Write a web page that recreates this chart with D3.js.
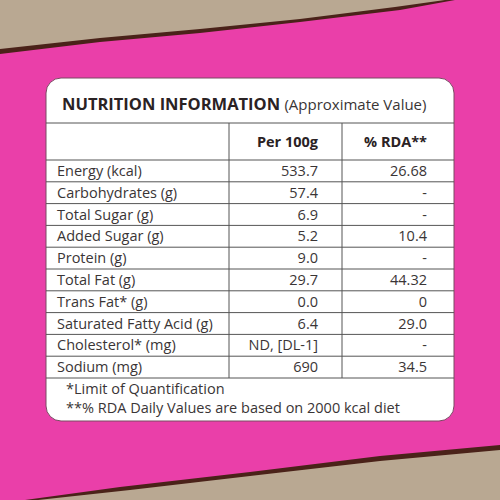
<!DOCTYPE html>
<html><head><meta charset="utf-8">
<script src="https://cdn.jsdelivr.net/npm/d3@7"></script>
<style>body{margin:0}svg{display:block}</style>
</head><body>
<div id="label"></div>
<script>
// --- données ---
const nutrients = ["Energy (kcal)", "Carbohydrates (g)", "Total Sugar (g)", "Added Sugar (g)", "Protein (g)",
  "Total Fat (g)", "Trans Fat* (g)", "Saturated Fatty Acid (g)", "Cholesterol* (mg)", "Sodium (mg)"];
const per100g = ["533.7", "57.4", "6.9", "5.2", "9.0", "29.7", "0.0", "6.4", "ND, [DL-1]", "690"];
const rda = ["26.68", "-", "-", "10.4", "-", "44.32", "0", "29.0", "-", "34.5"];
const headers = ["Per 100g", "% RDA**"];
const notes = ["*Limit of Quantification", "**% RDA Daily Values are based on 2000 kcal diet"];

const W = 500, H = 500;
const font = "'Open Sans', sans-serif";
const ink = "#3a3536";

const svg = d3.select("#label").append("svg").attr("width", W).attr("height", H);

// fond rose + papier déchiré
svg.append("rect").attr("width", W).attr("height", H).attr("fill", "#ea3fa9");
const line = d3.line();
svg.append("path").attr("fill", "#4a2219")
  .attr("d", line([[0,0],[455,0],[400,10],[300,22],[200,33],[100,42],[0,54]]) + "Z");
svg.append("path").attr("fill", "#b9a892")
  .attr("d", line([[0,0],[445,0],[395,7],[300,19],[200,29],[100,38],[0,49]]) + "Z");
svg.append("path").attr("fill", "#4a2219")
  .attr("d", line([[25,500],[120,487],[250,472],[380,456],[500,445],[500,500]]) + "Z");
svg.append("path").attr("fill", "#b9a892")
  .attr("d", line([[38,500],[130,490],[250,476],[380,461],[500,450],[500,500]]) + "Z");

// carte blanche
const card = {x: 46, y: 78, w: 408, h: 343};
svg.append("rect").attr("x", card.x).attr("y", card.y).attr("width", card.w).attr("height", card.h)
  .attr("rx", 15).attr("fill", "#fff").attr("stroke", "#7a4a63").attr("stroke-width", 1);

const title = svg.append("text").attr("x", 62).attr("y", 110).attr("font-family", font).attr("fill", "#2a2224");
title.append("tspan").attr("font-size", 16.5).attr("font-weight", 700).text("NUTRITION INFORMATION ");
title.append("tspan").attr("font-size", 15).attr("fill", ink).text("(Approximate Value)");

// échelles
const tableTop = 123, headH = 37;
const y = d3.scaleBand().domain(d3.range(nutrients.length)).range([tableTop + headH, 378]);
const cols = [card.x, 229, 342, card.x + card.w];
const g = svg.append("g").attr("stroke", "#555").attr("stroke-width", 1);

[tableTop, tableTop + headH, ...nutrients.map((d, i) => y(i) + y.bandwidth())].forEach(v =>
  g.append("line").attr("x1", card.x).attr("x2", card.x + card.w).attr("y1", v).attr("y2", v));
[cols[1], cols[2]].forEach(v =>
  g.append("line").attr("x1", v).attr("x2", v).attr("y1", tableTop).attr("y2", 378));

const t = svg.append("g").attr("font-family", font).attr("font-size", 14.5).attr("fill", ink);
t.selectAll(".h").data(headers).join("text")
  .attr("x", (d, i) => i ? 427 : 318).attr("y", tableTop + headH / 2 + 5)
  .attr("text-anchor", "end").attr("font-weight", 700).attr("fill", "#2a2224").text(d => d);

t.selectAll(".n").data(nutrients).join("text")
  .attr("x", 57).attr("y", (d, i) => y(i) + y.bandwidth() / 2 + 5).text(d => d);
t.selectAll(".p").data(per100g).join("text")
  .attr("x", 318).attr("text-anchor", "end")
  .attr("y", (d, i) => y(i) + y.bandwidth() / 2 + 5).text(d => d);
t.selectAll(".r").data(rda).join("text")
  .attr("x", 427).attr("text-anchor", "end")
  .attr("y", (d, i) => y(i) + y.bandwidth() / 2 + 5).text(d => d);

t.selectAll(".f").data(notes).join("text")
  .attr("x", 66).attr("font-size", 14.5).attr("y", (d, i) => 394 + i * 19).text(d => d);
</script>
</body></html>
